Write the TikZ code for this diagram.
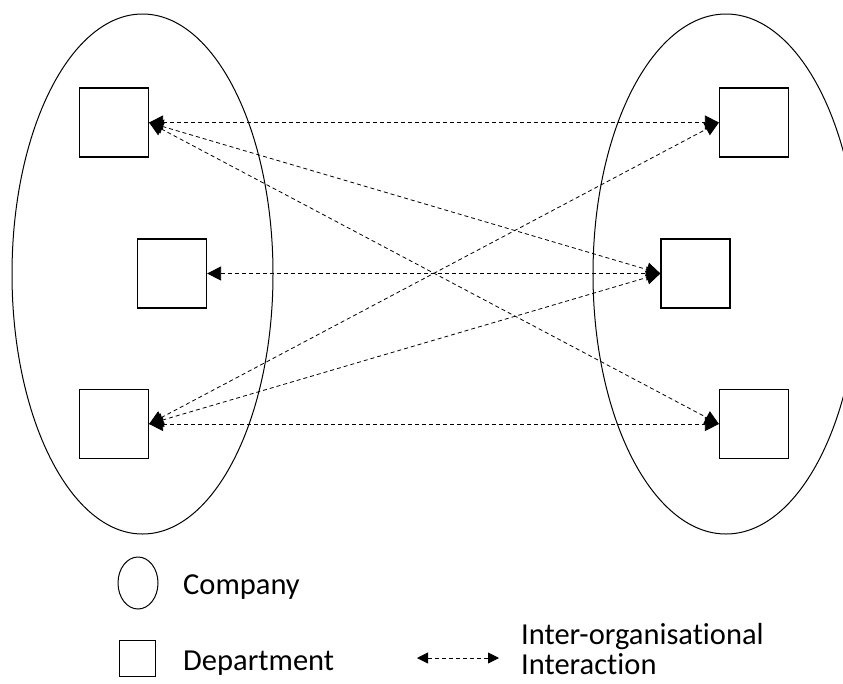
\documentclass[tikz,border=0pt]{standalone}
\usepackage{fontspec}
\setmainfont{Carlito}[Ligatures=NoCommon]
\usetikzlibrary{arrows.meta,shapes.geometric}
\tikzset{
  company/.style={draw, ellipse, line width=1pt, inner sep=0pt},
  dept/.style={draw, rectangle, line width=1.2pt, minimum size=69pt, inner sep=0pt},
  link/.style={dash pattern=on 4pt off 3pt, line width=0.8pt,
    {Triangle[length=14pt,width=14pt]}-{Triangle[length=14pt,width=14pt]}},
  legtext/.style={anchor=base west, inner sep=0pt, font=\fontsize{30.5}{36}\selectfont}
}
\begin{document}
\begin{tikzpicture}[x=1pt,y=-1pt]
    \useasboundingbox (0,0) rectangle (843,683);
    % companies
    \node[company, minimum width=261pt, minimum height=520pt] (compa) at (142.5,274) {};
    \node[company, minimum width=266pt, minimum height=520pt] (compb) at (726,274) {};
    % departments
    \node[dept] (tl) at (114,122.5) {};
    \node[dept] (ml) at (172,273.5) {};
    \node[dept] (bl) at (114,424) {};
    \node[dept] (tr) at (754,122.5) {};
    \node[dept] (mr) at (695.5,273.5) {};
    \node[dept] (br) at (754,424) {};
    % interactions
    \draw[link] (tl.east) -- (tr.west);
    \draw[link] (tl.east) -- (mr.west);
    \draw[link] (tl.east) -- (br.west);
    \draw[link] (ml.east) -- (mr.west);
    \draw[link] (bl.east) -- (tr.west);
    \draw[link] (bl.east) -- (mr.west);
    \draw[link] (bl.east) -- (br.west);
    % legend
    \node[company, minimum width=40pt, minimum height=52pt] (legcomp) at (138,583) {};
    \node[legtext] (legcomptxt) at (183,594) {Company};
    \node[draw, line width=1pt, minimum size=36pt, inner sep=0pt] (legdept) at (137,658) {};
    \node[legtext] (legdepttxt) at (183,670) {Department};
    \coordinate (lega) at (417,658);
    \coordinate (legb) at (499,658);
    \draw[link, {Triangle[length=11pt,width=11pt]}-{Triangle[length=11pt,width=11pt]}] (lega) -- (legb);
    \node[legtext] (leglink1) at (521,644) {Inter-organisational};
    \node[legtext] (leglink2) at (521,674) {Interaction};
\end{tikzpicture}
\end{document}
